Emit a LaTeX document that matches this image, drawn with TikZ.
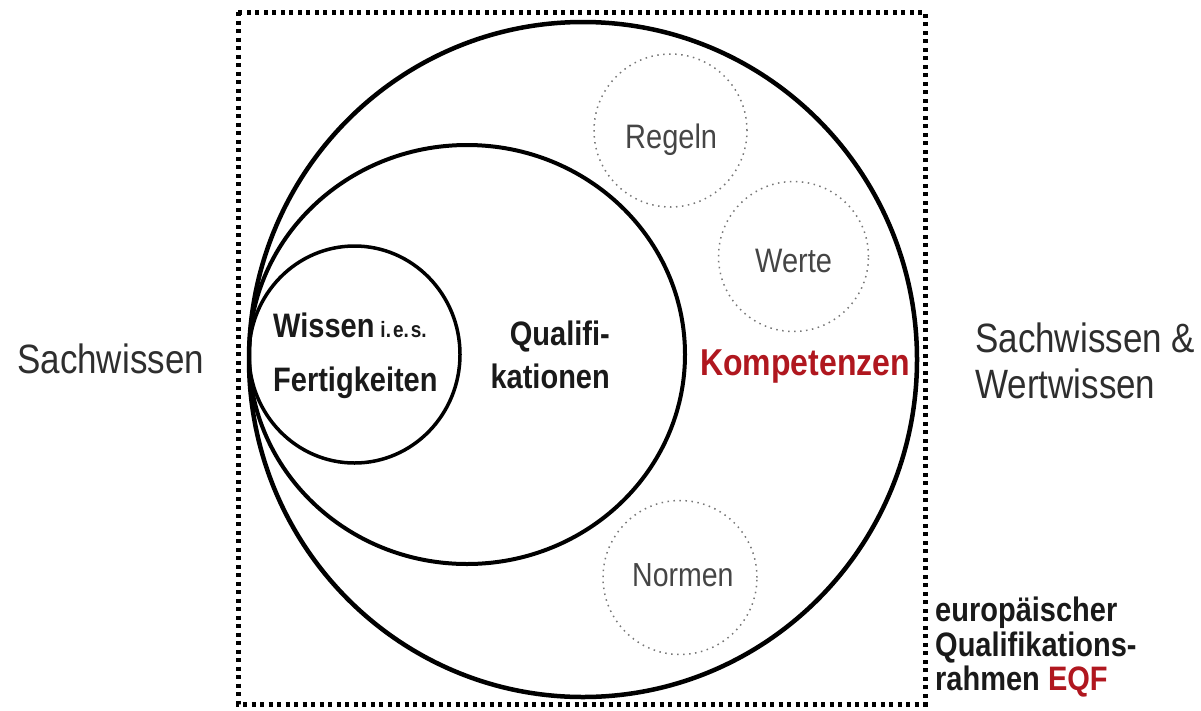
\documentclass[tikz,border=0pt]{standalone}
\usepackage{fontspec}
\setmainfont{Liberation Sans}
\usetikzlibrary{shapes.geometric}
\definecolor{kred}{HTML}{B0171F}
\definecolor{tdark}{HTML}{1A1A1A}
\definecolor{treg}{HTML}{2E2E2E}
\definecolor{tgray}{HTML}{454545}
\definecolor{cgray}{HTML}{777777}
\newcommand\vsc[1]{\scalebox{1}[1.17]{#1}}
\newcommand\fs[1]{\fontsize{#1}{#1}\selectfont}
\tikzset{
  ring/.style={draw=black, ellipse, inner sep=0pt, fill=none},
  minor/.style={draw=cgray, circle, inner sep=0pt, line width=1.5pt, dash pattern=on 1.5pt off 4.5pt},
  lab/.style={inner sep=0pt, anchor=base west},
  labr/.style={inner sep=0pt, anchor=base east},
}
\begin{document}
\begin{tikzpicture}[x=1pt,y=-1pt]
\useasboundingbox (0,0) rectangle (1201,710);
% dotted frame
\draw[line width=5pt, dash pattern=on 4pt off 4.5pt] (238,12) rectangle (925,704);
% circles
\node[ring, line width=4.5pt, minimum width=668pt, minimum height=675pt] (komp) at (583,359.5) {};
\node[ring, line width=4pt, minimum width=436pt, minimum height=419pt] (qual) at (467,354.5) {};
\node[ring, line width=3.5pt, minimum width=211pt, minimum height=217pt] (wiss) at (354.5,354.5) {};
\node[minor, minimum size=153pt] (regc) at (670.5,130.5) {};
\node[minor, minimum size=150pt] (werc) at (793.5,256.5) {};
\node[minor, minimum size=154pt] (norc) at (680,577.5) {};
% texts
\node[lab, text=treg] (sw) at (17,373) {\vsc{\fs{35}Sachwissen}};
\node[lab, text=treg] (sw2a) at (975,352) {\vsc{\fs{35}Sachwissen \&}};
\node[lab, text=treg] (sw2b) at (975,398) {\vsc{\fs{35}Wertwissen}};
\node[lab, text=kred] (kt) at (700,375) {\vsc{\fs{32}\bfseries Kompetenzen}};
\node[lab, text=tdark] (wt) at (273,337) {\vsc{\fs{29}\bfseries Wissen\hspace{6pt}{\fs{19}i.\kern2pt e.\kern2pt s.}}};
\node[lab, text=tdark] (ft) at (273,391) {\vsc{\fs{29}\bfseries Fertigkeiten}};
\node[labr, text=tdark] (qt) at (610,345) {\vsc{\fs{29}\bfseries Qualifi-}};
\node[labr, text=tdark] (kat) at (610,388) {\vsc{\fs{29}\bfseries kationen}};
\node[lab, text=tgray] (rt) at (625,148) {\vsc{\fs{29}Regeln}};
\node[lab, text=tgray] (wet) at (755,272) {\vsc{\fs{29}Werte}};
\node[lab, text=tgray] (nt) at (632,586) {\vsc{\fs{28.5}Normen}};
\node[lab, text=tdark] (e1) at (935,621) {\vsc{\fs{29}\bfseries europäischer}};
\node[lab, text=tdark] (e2) at (935,656) {\vsc{\fs{29}\bfseries Qualifikations-}};
\node[lab, text=tdark] (e3) at (935,690) {\vsc{\fs{29}\bfseries rahmen \textcolor{kred}{EQF}}};
\end{tikzpicture}
\end{document}
